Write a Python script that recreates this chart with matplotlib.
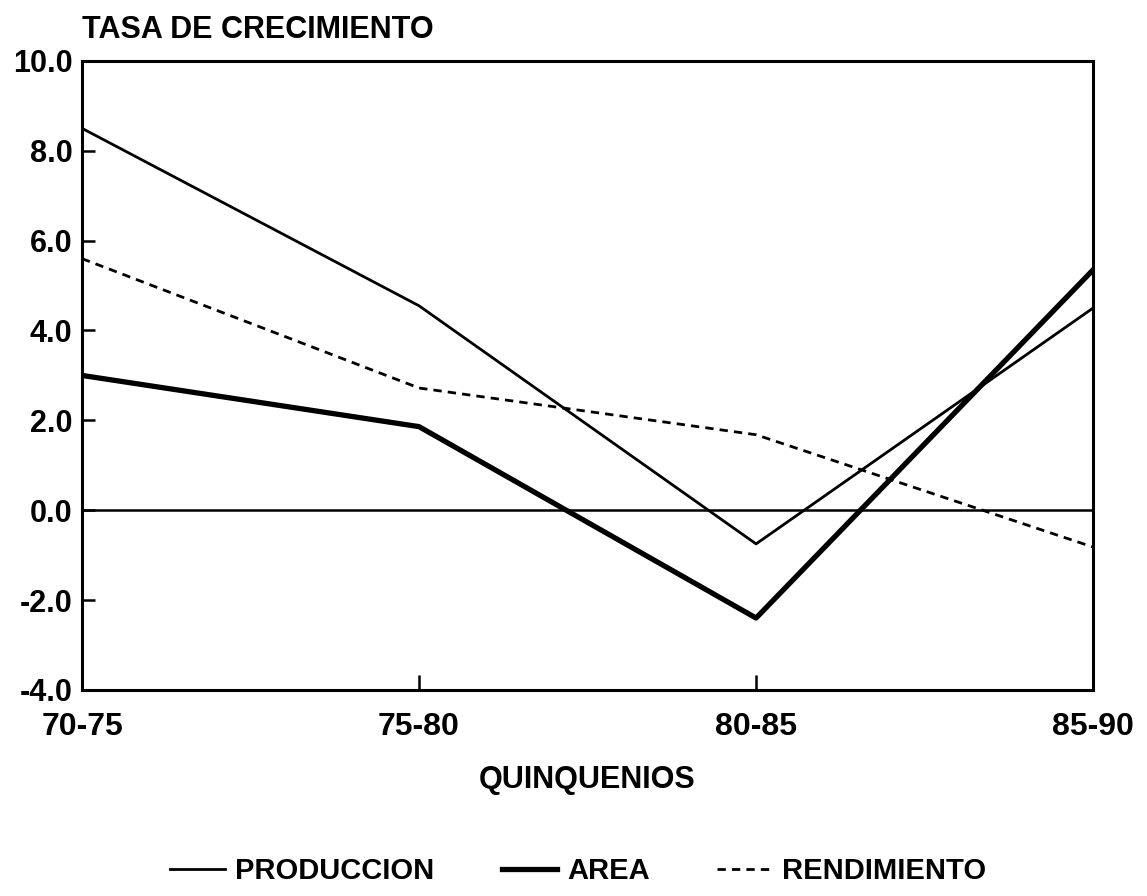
"""
Tasa de crecimiento por quinquenio
"""
import matplotlib
matplotlib.use('Agg')
import matplotlib.pyplot as plt

# datos
periodos = ['70-75', '75-80', '80-85', '85-90']
produccion = [8.5, 4.55, -0.75, 4.5]
area = [3.0, 1.86, -2.4, 5.35]
rendimiento = [5.6, 2.72, 1.68, -0.82]
y_ticks = [-4.0, -2.0, 0.0, 2.0, 4.0, 6.0, 8.0, 10.0]

plt.rcParams['font.family'] = ['Liberation Sans', 'DejaVu Sans']
plt.rcParams['font.weight'] = 'bold'

fig = plt.figure(figsize=(11.47, 8.96), dpi=100)
ax = fig.add_axes([0.0715, 0.230, 0.8815, 0.702])

x = list(range(len(periodos)))
ax.plot(x, produccion, '-', color='black', linewidth=2.0, label='PRODUCCION')
ax.plot(x, area, '-', color='black', linewidth=3.8, label='AREA')
ax.plot(x, rendimiento, '--', color='black', linewidth=2.0,
        dashes=(3.0, 2.2), label='RENDIMIENTO')

# linea del cero
ax.axhline(0, color='black', linewidth=1.8)

ax.set_xlim(0, 3)
ax.set_ylim(-4, 10)
ax.set_xticks(x)
ax.set_xticklabels(periodos)
ax.set_yticks(y_ticks)
ax.set_yticklabels([f'{v:.1f}' for v in y_ticks])
ax.tick_params(axis='y', direction='in', length=9, width=1.8,
               labelsize=22, pad=7)
ax.tick_params(axis='x', direction='in', length=11, width=1.8,
               labelsize=23, pad=16)
for s in ax.spines.values():
    s.set_linewidth(2.2)

ax.set_xlabel('QUINQUENIOS', fontsize=22, fontweight='bold', va='center')
ax.xaxis.set_label_coords(0.5, -0.143)
fig.text(0.0715, 0.967, 'TASA DE CRECIMIENTO', fontsize=22,
         fontweight='bold', ha='left', va='center')

fig.legend(loc='center', bbox_to_anchor=(0.504, 0.028), ncol=3, frameon=False,
           fontsize=21, handlelength=1.9, columnspacing=2.3, handletextpad=0.35)

plt.savefig('out.png', dpi=100, facecolor='white')
plt.close()
